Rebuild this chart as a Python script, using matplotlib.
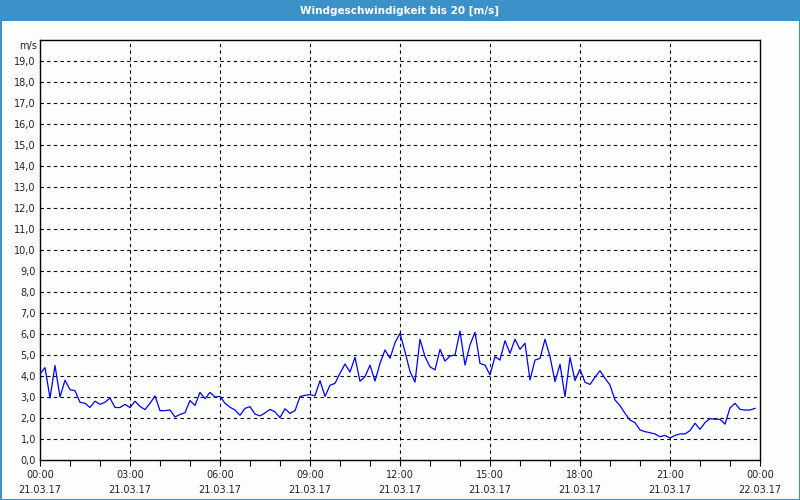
import matplotlib
matplotlib.use("Agg")
import matplotlib.pyplot as plt
from matplotlib.patches import Rectangle
import numpy as np

title = "Windgeschwindigkeit bis 20 [m/s]"
unit_label = "m/s"

# 10-minute samples, minutes after 21.03.17 00:00
minutes = list(range(0, 1440, 10))
speed = [
    4.1, 4.4, 2.95, 4.5, 3.0, 3.8, 3.35, 3.3, 2.75, 2.7, 2.5, 2.8,
    2.65, 2.75, 2.95, 2.5, 2.5, 2.65, 2.5, 2.8, 2.55, 2.4, 2.7, 3.05,
    2.35, 2.35, 2.38, 2.05, 2.17, 2.25, 2.83, 2.6, 3.22, 2.92, 3.22, 3.0,
    3.03, 2.7, 2.51, 2.38, 2.13, 2.46, 2.54, 2.19, 2.1, 2.24, 2.41, 2.29,
    2.02, 2.44, 2.22, 2.35, 3.02, 3.08, 3.11, 3.06, 3.78, 3.03, 3.56, 3.65,
    4.13, 4.57, 4.19, 4.89, 3.75, 3.97, 4.52, 3.76, 4.6, 5.24, 4.84, 5.59,
    6.03, 5.16, 4.21, 3.71, 5.75, 4.92, 4.44, 4.29, 5.27, 4.71, 4.95, 5.0,
    6.14, 4.52, 5.48, 6.08, 4.6, 4.52, 4.05, 4.92, 4.76, 5.68, 5.08, 5.75,
    5.27, 5.56, 3.81, 4.76, 4.84, 5.75, 4.92, 3.73, 4.56, 3.02, 4.89, 3.78,
    4.32, 3.7, 3.6, 3.94, 4.25, 3.89, 3.57, 2.86, 2.59, 2.22, 1.9, 1.78,
    1.43, 1.35, 1.3, 1.24, 1.11, 1.17, 1.05, 1.17, 1.24, 1.24, 1.4, 1.75,
    1.46, 1.78, 1.97, 1.94, 1.94, 1.71, 2.48, 2.7, 2.41, 2.38, 2.38, 2.46,
]

xtick_hours = [0, 3, 6, 9, 12, 15, 18, 21, 24]
xtick_labels = ["00:00\n21.03.17", "03:00\n21.03.17", "06:00\n21.03.17",
                "09:00\n21.03.17", "12:00\n21.03.17", "15:00\n21.03.17",
                "18:00\n21.03.17", "21:00\n21.03.17", "00:00\n22.03.17"]
ytick_values = list(range(0, 20))
ytick_labels = [f"{v},0" for v in ytick_values]

bg = "#FCFEFC"
bar_blue = "#3C91C8"

fig = plt.figure(figsize=(8, 5), dpi=100, facecolor=bg)

# title bar and border
fig.patches.append(Rectangle((0, 1 - 21 / 500), 1, 21 / 500, transform=fig.transFigure,
                             facecolor=bar_blue, edgecolor="none", zorder=0))
fig.patches.append(Rectangle((0.5 / 800, 0.5 / 500), 1 - 1 / 800, 1 - 1 / 500,
                             transform=fig.transFigure, facecolor="none",
                             edgecolor=bar_blue, linewidth=1.5, zorder=5))
fig.text(0.5, 1 - 10.5 / 500, title, ha="center", va="center", color="white",
         fontsize=7.5, fontweight="bold", family="DejaVu Sans")

ax = fig.add_axes([40 / 800, 40 / 500, 720 / 800, 420 / 500])
ax.set_facecolor(bg)

hours = np.array(minutes) / 60.0
ax.plot(hours, speed, color="#0000FF", linewidth=0.9, zorder=3)

ax.set_xlim(0, 24)
ax.set_ylim(0, 20)

ax.set_xticks(xtick_hours)
ax.set_xticklabels(xtick_labels, fontsize=7, color="#222222", linespacing=1.65)
ax.set_xticks(range(0, 25), minor=True)
ax.tick_params(axis="x", which="both", direction="out", length=4, width=0.8, pad=3)

ax.set_yticks(ytick_values)
ax.set_yticklabels(ytick_labels, fontsize=7, color="#222222")
ax.tick_params(axis="y", which="both", length=0, pad=3)

for h in xtick_hours[1:-1]:
    ax.axvline(h, color="black", linestyle=(0, (3, 3)), linewidth=0.8, zorder=1)
for v in range(1, 20):
    ax.axhline(v, color="black", linestyle=(0, (3, 3)), linewidth=0.8, zorder=1)

for s in ax.spines.values():
    s.set_color("black")
    s.set_linewidth(1.0)

ax.text(-0.1, 19.7, unit_label, ha="right", va="center",
        fontsize=7, color="#222222")

fig.savefig("out.png", dpi=100, facecolor=bg)
